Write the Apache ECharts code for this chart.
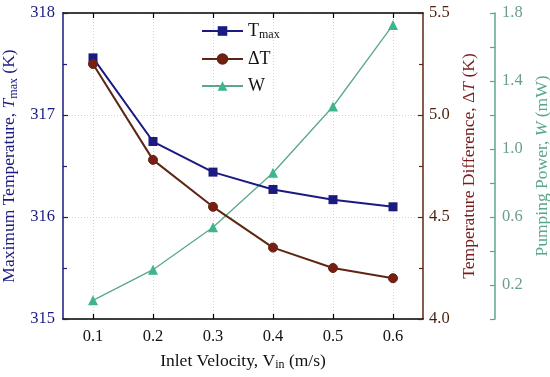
<!DOCTYPE html>
<html><head><meta charset="utf-8">
<script src="https://cdn.jsdelivr.net/npm/echarts@6/dist/echarts.min.js"></script>
<style>html,body{margin:0;padding:0;background:#fff}#c{width:550px;height:377px}</style>
</head><body><div id="c"></div>
<script>
var categories = ['0.1','0.2','0.3','0.4','0.5','0.6'];
var tmaxValues = [317.56, 316.74, 316.44, 316.27, 316.17, 316.10];
var deltaTValues = [5.25, 4.78, 4.55, 4.35, 4.25, 4.20];
var powerValues = [0.11, 0.29, 0.54, 0.86, 1.25, 1.73];

var FONT = 'Liberation Serif';
var NAVY = '#1a1a80', BROWN = '#5e2612', BROWN_MK = '#7a1e14', TEAL = '#5aa888', TEAL_MK = '#3fb58c';

function richSet(color) {
  return {
    n: {fontFamily: FONT, fontSize: 17.5, color: color, lineHeight: 19},
    i: {fontFamily: FONT, fontSize: 17.5, color: color, fontStyle: 'italic', lineHeight: 19},
    s: {fontFamily: FONT, fontSize: 12, color: color, verticalAlign: 'bottom', lineHeight: 12}
  };
}

var chart = echarts.init(document.getElementById('c'), null, {renderer: 'canvas'});
var grid = {left: 63, right: 127, top: 13, bottom: 58, containLabel: false, outerBoundsMode: 'none'};
var dotted = {show: true, lineStyle: {color: '#d0d0d0', type: [1, 2], width: 1}};

chart.setOption({
  animation: false,
  backgroundColor: '#fff',
  grid: grid,
  legend: {
    orient: 'vertical', left: 201, top: 22, padding: 0, itemWidth: 41, itemHeight: 12, itemGap: 9,
    textStyle: {fontFamily: FONT, fontSize: 18, color: '#111',
      rich: {n: {fontFamily: FONT, fontSize: 18, color: '#111', lineHeight: 20},
             s: {fontFamily: FONT, fontSize: 12, color: '#111', verticalAlign: 'bottom', lineHeight: 12}}},
    formatter: function (name) {
      if (name === 'Tmax') return '{n|T}{s|max}';
      return '{n|' + name + '}';
    },
    data: ['Tmax', '\u0394T', 'W']
  },
  xAxis: [{
    type: 'category', data: categories, boundaryGap: true, position: 'bottom',
    axisLine: {show: true, lineStyle: {color: '#000', width: 1.5}},
    axisTick: {show: true, inside: true, alignWithLabel: true, length: 5, lineStyle: {color: '#000', width: 1.2}},
    axisLabel: {fontFamily: FONT, fontSize: 16.5, color: '#111', margin: 9},
    splitLine: {show: true, alignWithLabel: true, lineStyle: {color: '#d0d0d0', type: [1, 2], width: 1}},
    name: '{n|Inlet Velocity, V}{s|in}{n| (m/s)}', nameLocation: 'middle', nameGap: 33,
    nameTextStyle: {fontFamily: FONT, fontSize: 17.5, color: '#111', rich: richSet('#111')}
  }, {
    type: 'category', data: categories, boundaryGap: true, position: 'top',
    axisLine: {show: true, lineStyle: {color: '#000', width: 1.5}},
    axisTick: {show: true, inside: true, alignWithLabel: true, length: 5, lineStyle: {color: '#000', width: 1.2}},
    axisLabel: {show: false}, splitLine: {show: false}
  }],
  yAxis: [{
    type: 'value', min: 315, max: 318, interval: 1, position: 'left',
    axisLine: {show: true, onZero: false, lineStyle: {color: NAVY, width: 1.5}},
    axisTick: {show: true, inside: true, length: 5, lineStyle: {color: NAVY, width: 1.2}},
    minorTick: {show: true, splitNumber: 2, length: 4, lineStyle: {color: NAVY, width: 1.2}},
    axisLabel: {fontFamily: FONT, fontSize: 16.5, color: NAVY, margin: 8},
    splitLine: dotted,
    name: '{n|Maximum Temperature, }{i|T}{s|max}{n| (K)}', nameLocation: 'middle', nameGap: 38, nameRotate: 90,
    nameTextStyle: {fontFamily: FONT, fontSize: 17.5, color: NAVY, rich: richSet(NAVY)}
  }, {
    type: 'value', min: 4.0, max: 5.5, interval: 0.5, position: 'right',
    axisLine: {show: true, onZero: false, lineStyle: {color: BROWN, width: 1.5}},
    axisTick: {show: true, inside: true, length: 5, lineStyle: {color: BROWN, width: 1.2}},
    minorTick: {show: true, splitNumber: 2, length: 4, lineStyle: {color: BROWN, width: 1.2}},
    axisLabel: {fontFamily: FONT, fontSize: 16.5, color: '#4a1e0e', margin: 6,
      formatter: function (v) { return v.toFixed(1); }},
    splitLine: {show: false},
    name: '{n|Temperature Difference, \u0394}{i|T}{n| (K)}', nameLocation: 'middle', nameGap: 36, nameRotate: 90,
    nameTextStyle: {fontFamily: FONT, fontSize: 17.5, color: '#7a1c1c', rich: richSet('#7a1c1c')}
  }, {
    type: 'value', min: 0, max: 1.8, interval: 0.2, position: 'right', offset: 72,
    axisLine: {show: true, onZero: false, lineStyle: {color: TEAL, width: 1.5}},
    axisTick: {show: true, inside: true, length: 5, lineStyle: {color: TEAL, width: 1.2}},
    axisLabel: {fontFamily: FONT, fontSize: 16.5, color: '#6a9f8a', margin: 7,
      formatter: function (v) { var k = Math.round(v * 10); return (k % 4 === 2) ? v.toFixed(1) : ''; }},
    splitLine: {show: false},
    name: '{n|Pumping Power, }{i|W}{n| (mW)}', nameLocation: 'middle', nameGap: 35, nameRotate: 90,
    nameTextStyle: {fontFamily: FONT, fontSize: 17.5, color: '#5aa88a', rich: richSet('#5aa88a')}
  }],
  series: [{
    name: 'Tmax', type: 'line', xAxisIndex: 0, yAxisIndex: 0, data: tmaxValues,
    symbol: 'rect', symbolSize: 9,
    lineStyle: {color: NAVY, width: 2}, itemStyle: {color: NAVY}, z: 3
  }, {
    name: '\u0394T', type: 'line', xAxisIndex: 0, yAxisIndex: 1, data: deltaTValues,
    symbol: 'circle', symbolSize: 9,
    lineStyle: {color: BROWN, width: 2}, itemStyle: {color: BROWN_MK, borderColor: BROWN, borderWidth: 1}, z: 3
  }, {
    name: 'W', type: 'line', xAxisIndex: 0, yAxisIndex: 2, data: powerValues,
    symbol: 'triangle', symbolSize: 10,
    lineStyle: {color: TEAL, width: 1.3}, itemStyle: {color: TEAL_MK}, z: 2
  }]
});
</script>
</body></html>
